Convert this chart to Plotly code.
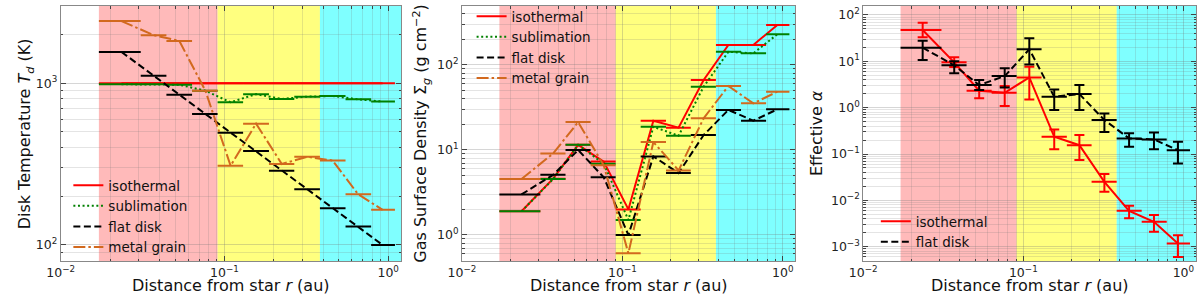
import numpy as np
import plotly.graph_objects as go

# ---------------- data ----------------
r_mid = [0.0235, 0.0370, 0.0530, 0.0765, 0.109, 0.156, 0.224, 0.321, 0.458, 0.655, 0.925]
r_lo = [0.0171, 0.0308, 0.0442, 0.0634, 0.0908, 0.130, 0.187, 0.267, 0.383, 0.549, 0.787]
r_hi = [0.0308, 0.0442, 0.0634, 0.0908, 0.130, 0.187, 0.267, 0.383, 0.549, 0.787, 1.10]

# zone boundaries (au)
zone_edges = [0.0171, 0.0908, 0.383, 1.2]
zone_colors = ["rgba(255,0,0,0.27)", "rgba(255,255,0,0.5)", "rgba(0,255,255,0.5)"]

# panel 1: disk temperature (K)
T_iso = [1000, 1000, 1000, 1000, 1000, 1000, 1000, 1000, 1000, 1000, 1000]
T_sub = [986, 985, 980, 900, 763, 857, 800, 827, 835, 796, 771]
T_flat = [1563, 1112, 849, 645, 495, 381, 288, 221, 169, 130, 100]
T_metal = [2425, 1985, 1828, 900, 309, 563, 317, 351, 333, 206, 165]

# panel 2: gas surface density (g cm^-2)
S_iso = [1.90, 4.6, 11.5, 7.3, 2.0, 22.1, 18.3, 66.7, 172, 172, 296]
S_sub = [1.90, 4.55, 11.5, 6.9, 1.5, 18.8, 14.7, 55.6, 143, 137, 230]
S_flat = [3.0, 5.1, 10.0, 4.77, 1.0, 8.4, 5.35, 15.0, 29.6, 22.1, 30.1]
S_metal = [4.56, 9.1, 21.3, 6.6, 0.61, 12.4, 5.75, 23.6, 56.6, 35.4, 48.5]

# panel 3: effective alpha with upper / lower bounds
A_iso = [47.4, 9.5, 2.32, 2.1, 4.5, 0.235, 0.155, 0.0251, 0.00593, 0.00344, 0.00117]
A_iso_hi = [68, 12.2, 3.08, 2.95, 7.6, 0.34, 0.256, 0.0368, 0.0076, 0.0048, 0.00177]
A_iso_lo = [33, 7.5, 1.59, 1.08, 1.5, 0.126, 0.074, 0.0153, 0.0041, 0.0021, 0.0006]
A_flat = [19.7, 8.2, 3.08, 4.8, 18.2, 1.72, 1.97, 0.54, 0.217, 0.206, 0.121]
A_flat_hi = [27.9, 10.1, 3.95, 7.07, 31.3, 2.48, 3.08, 0.753, 0.279, 0.292, 0.184]
A_flat_lo = [10.7, 5.5, 2.4, 2.74, 8.5, 0.89, 0.89, 0.30, 0.143, 0.126, 0.0627]

# tick labels
x_tickvals = [0.01, 0.1, 1]
x_ticktext = ["10<sup>−2</sup>", "10<sup>−1</sup>", "10<sup>0</sup>"]
y1_tickvals = [100, 1000]
y1_ticktext = ["10<sup>2</sup>", "10<sup>3</sup>"]
y2_tickvals = [1, 10, 100]
y2_ticktext = ["10<sup>0</sup>", "10<sup>1</sup>", "10<sup>2</sup>"]
y3_tickvals = [1e-3, 1e-2, 1e-1, 1, 10, 100]
y3_ticktext = ["10<sup>−3</sup>", "10<sup>−2</sup>", "10<sup>−1</sup>",
               "10<sup>0</sup>", "10<sup>1</sup>", "10<sup>2</sup>"]

names = ["isothermal", "sublimation", "flat disk", "metal grain"]

# ---------------- styles ----------------
FONT = "DejaVu Sans"
W, H = 1200, 297
STY = {
    "isothermal": dict(color="#ff0000", dash="solid"),
    "sublimation": dict(color="#008000", dash="2px,2.6px"),
    "flat disk": dict(color="#000000", dash="7px,3.5px"),
    "metal grain": dict(color="#d2691e", dash="12px,3px,2.5px,3px"),
}

xerr_plus = [h - m for h, m in zip(r_hi, r_mid)]
xerr_minus = [m - l for m, l in zip(r_mid, r_lo)]

fig = go.Figure()


def add_series(name, y, xa, ya, legend, yhi=None, ylo=None, showlegend=True):
    s = STY[name]
    kw = {}
    if yhi is not None:
        kw["error_y"] = dict(type="data", symmetric=False,
                             array=[h - v for h, v in zip(yhi, y)],
                             arrayminus=[v - l for v, l in zip(y, ylo)],
                             thickness=2, width=5, color=s["color"])
    fig.add_trace(go.Scatter(
        x=r_mid, y=y, mode="lines", name=name,
        line=dict(color=s["color"], width=2, dash=s["dash"]),
        error_x=dict(type="data", symmetric=False, array=xerr_plus,
                     arrayminus=xerr_minus, thickness=2, width=0,
                     color=s["color"]),
        xaxis=xa, yaxis=ya, legend=legend, showlegend=showlegend, **kw))


for n, y in zip(names, [T_iso, T_sub, T_flat, T_metal]):
    add_series(n, y, "x", "y", "legend")
for n, y in zip(names, [S_iso, S_sub, S_flat, S_metal]):
    add_series(n, y, "x2", "y2", "legend2")
add_series("isothermal", A_iso, "x3", "y3", "legend3", A_iso_hi, A_iso_lo)
add_series("flat disk", A_flat, "x3", "y3", "legend3", A_flat_hi, A_flat_lo)

# ---------------- axes ----------------
def minor_vals(e0, e1):
    return [k * 10.0 ** e for e in range(e0, e1) for k in range(2, 10)]


GRID_MAJ = "rgba(120,120,120,0.30)"
GRID_MIN = "rgba(120,120,120,0.20)"
TICKC = "#444"


def axis(domain, anchor, rng, tv, tt, minor):
    return dict(type="log", domain=domain, anchor=anchor, range=rng,
                tickmode="array", tickvals=tv, ticktext=tt,
                ticks="inside", ticklen=5, tickwidth=1, tickcolor=TICKC,
                mirror="allticks", showline=True, linecolor="#888", linewidth=1,
                showgrid=True, gridcolor=GRID_MAJ, gridwidth=1, zeroline=False,
                tickfont=dict(family=FONT, size=12.5, color="#222"),
                minor=dict(tickmode="array", tickvals=minor, ticks="inside",
                           ticklen=2.5, tickwidth=1, tickcolor=TICKC,
                           showgrid=True, gridcolor=GRID_MIN, gridwidth=1))


px_x = [(47.3, 391.7), (453.3, 790.7), (859.3, 1196.0)]
dom_x = [[a / W, b / W] for a, b in px_x]
dom_y = [1 - 261 / H, 1 - 6 / H]
xr = [-2, float(np.log10(1.2))]
mx = minor_vals(-2, 1)

fig.update_layout(
    xaxis=axis(dom_x[0], "y", xr, x_tickvals, x_ticktext, mx),
    xaxis2=axis(dom_x[1], "y2", xr, x_tickvals, x_ticktext, mx),
    xaxis3=axis(dom_x[2], "y3", xr, x_tickvals, x_ticktext, mx),
    yaxis=axis(dom_y, "x", [1.901, 3.478], y1_tickvals, y1_ticktext, minor_vals(1, 4)),
    yaxis2=axis(dom_y, "x2", [-0.306, 2.694], y2_tickvals, y2_ticktext, minor_vals(-1, 3)),
    yaxis3=axis(dom_y, "x3", [-3.309, 2.194], y3_tickvals, y3_ticktext, minor_vals(-4, 3)),
)

# shaded zones
shapes = []
for xa, ya in [("x", "y"), ("x2", "y2"), ("x3", "y3")]:
    for i, c in enumerate(zone_colors):
        shapes.append(dict(type="rect", xref=xa, yref=ya + " domain",
                           x0=zone_edges[i], x1=zone_edges[i + 1], y0=0, y1=1,
                           fillcolor=c, line=dict(width=0), layer="below"))
fig.update_layout(shapes=shapes)

# axis titles
ann = []
xt = "Distance from star <i>r</i> (au)"
for a, b in px_x:
    ann.append(dict(text=xt, x=(a + b) / 2 / W, y=0, xref="paper", yref="paper",
                    xanchor="center", yanchor="bottom", showarrow=False,
                    font=dict(family=FONT, size=16, color="#111")))
ytitles = [("Disk Temperature <i>T</i><sub><i>d</i></sub> (K)", 12),
           ("Gas Surface Density Σ<sub><i>g</i></sub> (g cm<sup>−2</sup>)", 412),
           ("Effective <i>α</i>", 812)]
for t, xc in ytitles:
    ann.append(dict(text=t, x=xc / W, y=1 - 133.5 / H, xref="paper", yref="paper",
                    xanchor="center", yanchor="middle", textangle=-90, showarrow=False,
                    font=dict(family=FONT, size=16, color="#111")))
fig.update_layout(annotations=ann)

LEGFONT = dict(family=FONT, size=13.5, color="#111")


def leg(xpx, ytop):
    return dict(x=xpx / W, y=1 - ytop / H, xanchor="left", yanchor="top",
                bgcolor="rgba(0,0,0,0)", borderwidth=0, font=LEGFONT,
                itemwidth=30, tracegroupgap=0)


fig.update_layout(
    width=W, height=H, margin=dict(l=0, r=0, t=0, b=0),
    paper_bgcolor="white", plot_bgcolor="white",
    font=dict(family=FONT, size=13, color="#111"),
    legend=leg(55, 170), legend2=leg(463, 1), legend3=leg(872, 206),
)

fig.write_html("out.html", config={"displayModeBar": False},
               post_script="document.body.style.margin='0';document.body.style.overflow='hidden';")
